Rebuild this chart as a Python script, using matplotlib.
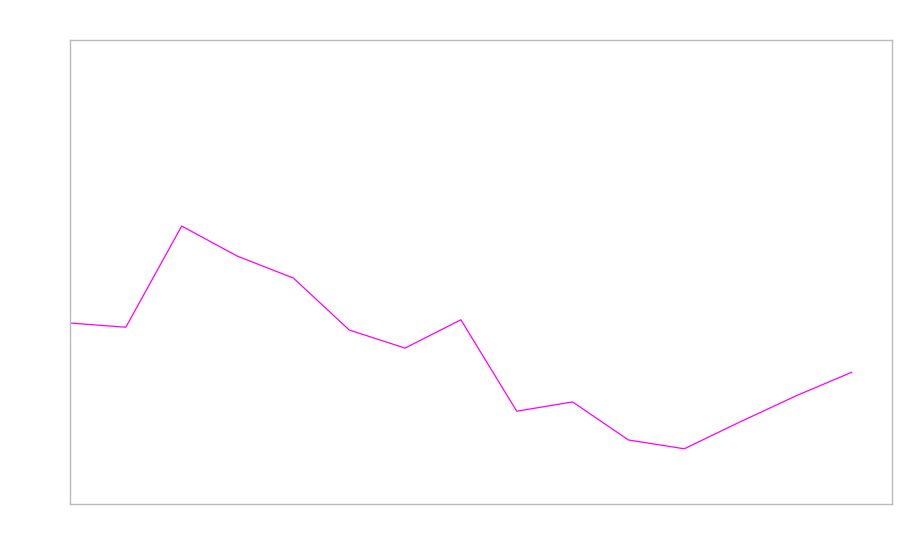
import matplotlib
matplotlib.use("Agg")
import matplotlib.pyplot as plt

# one point per step (0-100 scale)
steps = list(range(15))
values = [39.0, 38.1, 59.9, 53.4, 48.7, 37.5, 33.6, 39.7, 20.0, 22.0,
          13.8, 11.9, 17.7, 23.3, 28.4]

fig = plt.figure(figsize=(9, 5.6), dpi=100)
ax = fig.add_axes([70 / 900, 56 / 560, 822 / 900, 464 / 560])

ax.plot(steps, values, color="#ff00ff", linewidth=0.9)

ax.set_xlim(0, 14.72)
ax.set_ylim(0, 100)
ax.set_xticks([])
ax.set_yticks([])
for s in ax.spines.values():
    s.set_color("#bbbbbb")
    s.set_linewidth(1.0)

fig.savefig("out.png", dpi=100)
